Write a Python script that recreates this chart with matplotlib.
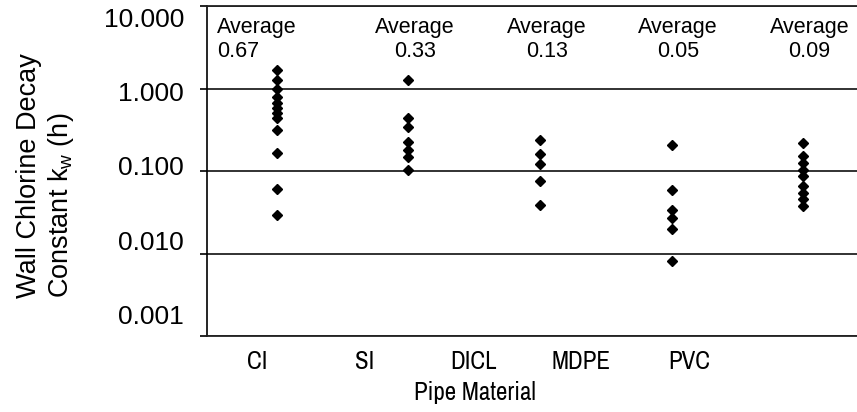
import matplotlib
matplotlib.use("Agg")
import matplotlib.pyplot as plt
import numpy as np
from matplotlib import font_manager
from matplotlib.ticker import NullLocator

plt.rcParams['font.family'] = ['Liberation Sans', 'DejaVu Sans']
plt.rcParams['mathtext.fontset'] = 'custom'
plt.rcParams['mathtext.rm'] = 'Liberation Sans'
plt.rcParams['mathtext.it'] = 'Liberation Sans:italic'

# data (kw values per pipe material)
materials = ["CI", "SI", "DICL", "MDPE", "PVC"]
averages = ["0.67", "0.33", "0.13", "0.05", "0.09"]
kw_ci = [1.68, 1.27, 0.99, 0.79, 0.67, 0.58, 0.50, 0.44, 0.31, 0.165, 0.060, 0.029]
kw_si = [1.27, 0.44, 0.34, 0.225, 0.18, 0.148, 0.103]
kw_dicl = [0.238, 0.161, 0.122, 0.076, 0.039]
kw_mdpe = [0.207, 0.059, 0.034, 0.027, 0.020, 0.0081]
kw_pvc = [0.218, 0.152, 0.125, 0.103, 0.087, 0.066, 0.054, 0.046, 0.038]
y_ticks = [0.001, 0.01, 0.1, 1, 10]
y_tick_labels = ["0.001", "0.010", "0.100", "1.000", "10.000"]

series = [kw_ci, kw_si, kw_dicl, kw_mdpe, kw_pvc]

# the category axis uses a narrow face in the original
installed = {f.name for f in font_manager.fontManager.ttflist}
cat_family, cat_size = ['Liberation Sans'], 16
for name in ['Liberation Sans Narrow', 'Archivo Narrow']:
    if name in installed:
        cat_family, cat_size = [name, 'Liberation Sans'], 18
        break

W, H = 857, 412
fig = plt.figure(figsize=(W / 100, H / 100), dpi=100)
ax = fig.add_axes([207 / W, 1 - 336 / H, 650 / W, 330 / H])

for i, vals in enumerate(series):
    ax.plot(np.full(len(vals), i + 1), vals, 'D', color='black', ms=4.6,
            mec='black', zorder=2, clip_on=False)

ax.set_yscale('log')
ax.set_ylim(0.001, 10)
ax.set_xlim(0.468, 5.41)

ax.set_yticks(y_ticks)
ax.set_yticklabels([])
ax.yaxis.set_minor_locator(NullLocator())
ax.tick_params(axis='y', direction='out', length=5, width=1.2, color='black')
ax.yaxis.grid(True, color='#222222', lw=1.3)
ax.set_axisbelow(True)

# y tick labels sit a little off the gridlines in the original
for frac, lab in zip(np.linspace(0.0576, 0.9576, len(y_tick_labels)), y_tick_labels):
    ax.text(-0.0354, frac, lab, transform=ax.transAxes, ha='right', va='center',
            fontsize=19)

# category labels
cat_pos = 1 + (np.arange(len(materials)) * 108 - 20) / 131.5
ax.set_xticks(cat_pos)
ax.set_xticklabels(materials, family=cat_family, fontsize=cat_size)
ax.tick_params(axis='x', length=0, pad=10)

for s in ['top', 'bottom']:
    ax.spines[s].set_color('#222222')
    ax.spines[s].set_linewidth(1.3)
ax.spines['right'].set_visible(False)
ax.spines['left'].set_linewidth(1.2)

# average annotations
trans = ax.get_xaxis_transform()
for i, avg in enumerate(averages):
    if i == 0:
        x, ha = 0.468 + 10 / 131.5, 'left'
    else:
        x, ha = i + 1 + 0.05, 'center'
    ax.text(x, 0.898, "Average\n" + avg, transform=trans, ha=ha, va='center',
            multialignment=ha, fontsize=15.5, zorder=3,
            bbox=dict(fc='white', ec='none', pad=1))

fig.text(474.5 / W, 1 - 393 / H, "Pipe Material", ha='center', va='center',
         family=cat_family, fontsize=cat_size)
fig.text(46 / W, 1 - 176 / H, "Wall Chlorine Decay\nConstant k$_{\\mathrm{w}}$ (h)",
         rotation=90, ha='center', va='center', multialignment='left',
         fontsize=19.5)

fig.savefig("out.png", dpi=100)
